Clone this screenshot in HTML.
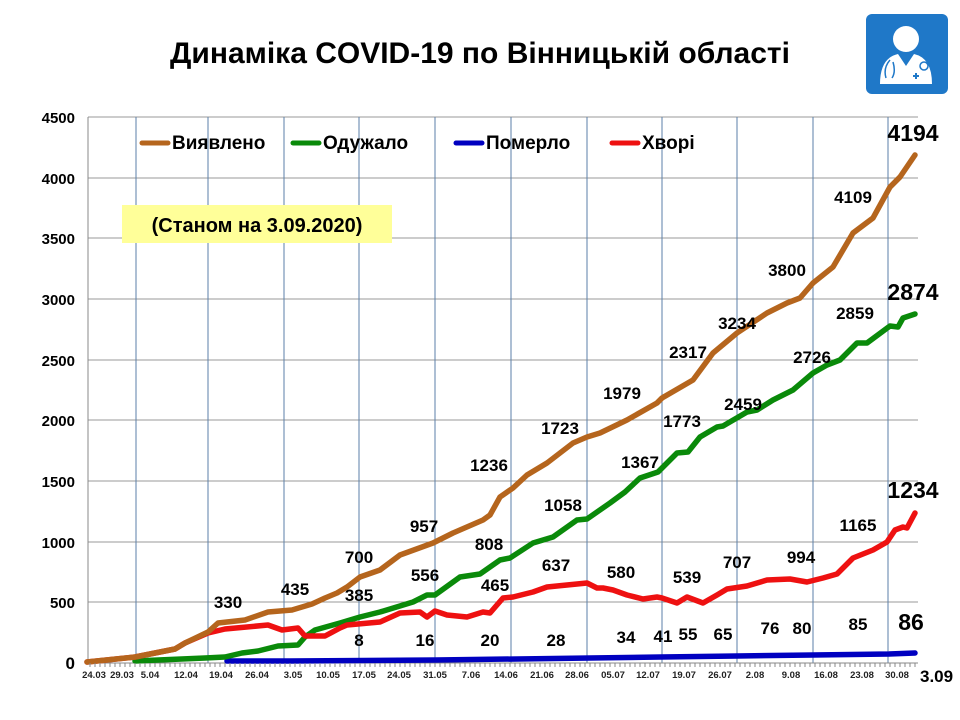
<!DOCTYPE html>
<html><head><meta charset="utf-8"><style>body{margin:0;background:#fff}svg{display:block}text{font-family:"Liberation Sans",sans-serif;font-weight:bold}</style></head>
<body>
<svg width="960" height="720" viewBox="0 0 960 720" xmlns="http://www.w3.org/2000/svg">
<rect width="960" height="720" fill="#fff"/>
<text x="480" y="63" font-size="30" text-anchor="middle" fill="#000">Динаміка COVID-19 по Вінницькій області</text>
<rect x="866" y="14" width="82" height="80" rx="6" fill="#1f78c8"/>
<circle cx="906" cy="39" r="13" fill="#fff"/>
<path d="M880 84 Q880 58 898 54 L906 66 L914 54 Q932 58 932 84 Z" fill="#fff"/>
<path d="M890 60 Q883 68 886 78 M892 78 Q896 72 893 62" stroke="#1f78c8" stroke-width="1.5" fill="none"/>
<circle cx="924" cy="66" r="4" fill="none" stroke="#1f78c8" stroke-width="1.5"/>
<path d="M913 76 h6 M916 73 v6" stroke="#1f78c8" stroke-width="2"/>
<g stroke="#999" stroke-width="1">
<line x1="88" y1="117" x2="918" y2="117"/><line x1="88" y1="178" x2="918" y2="178"/><line x1="88" y1="238" x2="918" y2="238"/><line x1="88" y1="299" x2="918" y2="299"/><line x1="88" y1="360" x2="918" y2="360"/><line x1="88" y1="420" x2="918" y2="420"/><line x1="88" y1="481" x2="918" y2="481"/><line x1="88" y1="542" x2="918" y2="542"/><line x1="88" y1="602" x2="918" y2="602"/>
</g>
<g stroke="#5b7fa8" stroke-width="1">
<line x1="136" y1="117" x2="136" y2="663"/><line x1="208" y1="117" x2="208" y2="663"/><line x1="284" y1="117" x2="284" y2="663"/><line x1="359" y1="117" x2="359" y2="663"/><line x1="435" y1="117" x2="435" y2="663"/><line x1="511" y1="117" x2="511" y2="663"/><line x1="587" y1="117" x2="587" y2="663"/><line x1="662" y1="117" x2="662" y2="663"/><line x1="737" y1="117" x2="737" y2="663"/><line x1="813" y1="117" x2="813" y2="663"/><line x1="888" y1="117" x2="888" y2="663"/>
</g>
<line x1="88" y1="117" x2="88" y2="663" stroke="#888"/>
<line x1="85" y1="663" x2="918" y2="663" stroke="#888"/>
<g font-size="15" text-anchor="end" fill="#000">
<text x="75" y="123">4500</text><text x="75" y="184">4000</text><text x="75" y="244">3500</text><text x="75" y="305">3000</text><text x="75" y="366">2500</text><text x="75" y="426">2000</text><text x="75" y="487">1500</text><text x="75" y="548">1000</text><text x="75" y="608">500</text><text x="75" y="669" font-size="17">0</text>
</g>
<g font-size="9.5" text-anchor="middle" fill="#222">
<text x="94" y="678">24.03</text><text x="122" y="678">29.03</text><text x="150" y="678">5.04</text><text x="186" y="678">12.04</text><text x="221" y="678">19.04</text><text x="257" y="678">26.04</text><text x="293" y="678">3.05</text><text x="328" y="678">10.05</text><text x="364" y="678">17.05</text><text x="399" y="678">24.05</text><text x="435" y="678">31.05</text><text x="471" y="678">7.06</text><text x="506" y="678">14.06</text><text x="542" y="678">21.06</text><text x="577" y="678">28.06</text><text x="613" y="678">05.07</text><text x="648" y="678">12.07</text><text x="684" y="678">19.07</text><text x="720" y="678">26.07</text><text x="755" y="678">2.08</text><text x="791" y="678">9.08</text><text x="826" y="678">16.08</text><text x="862" y="678">23.08</text><text x="897" y="678">30.08</text>
</g>
<text x="920" y="682" font-size="17" fill="#000">3.09</text>
<g font-size="19" fill="#000">
<line x1="142" y1="143" x2="168" y2="143" stroke="#b5651d" stroke-width="5" stroke-linecap="round"/><text x="172" y="149">Виявлено</text>
<line x1="293" y1="143" x2="319" y2="143" stroke="#0a8a0a" stroke-width="5" stroke-linecap="round"/><text x="323" y="149">Одужало</text>
<line x1="456" y1="143" x2="482" y2="143" stroke="#0000c0" stroke-width="5" stroke-linecap="round"/><text x="486" y="149">Померло</text>
<line x1="612" y1="143" x2="638" y2="143" stroke="#ee1111" stroke-width="5" stroke-linecap="round"/><text x="642" y="149">Хворі</text>
</g>
<rect x="122" y="205" width="270" height="38" fill="#ffff99"/>
<text x="257" y="232" font-size="20" text-anchor="middle" fill="#000">(Станом на 3.09.2020)</text>
<g fill="none" stroke-width="5.5" stroke-linejoin="round" stroke-linecap="round">
<polyline stroke="#0000c0" points="227,661 290,661 436,660 590,658 661,657 737,656 813,655 889,654 915,653"/>
<polyline stroke="#0a8a0a" points="135,661 205,658 225,657 242,653 258,651 278,646 298,645 305,637 315,630 340,623 360,617 380,612 413,602 427,595 435,595 460,577 480,574 500,560 510,558 533,543 553,537 577,520 587,519 610,503 625,492 640,478 658,472 677,453 688,452 700,437 717,427 723,426 747,412 757,410 773,400 793,390 813,373 827,365 840,360 857,343 867,343 890,326 898,327 903,318 915,314"/>
<polyline stroke="#ee1111" points="87,662 135,657 175,649 185,643 208,633 225,629 268,625 282,630 298,628 305,636 325,636 340,628 347,625 380,622 400,613 420,612 427,617 435,611 447,615 467,617 483,612 490,613 503,598 513,597 533,592 547,587 567,585 587,583 597,588 603,588 613,590 627,595 643,599 657,597 662,598 677,603 687,597 703,603 717,595 727,589 747,586 767,580 790,579 807,582 823,578 837,574 853,558 873,550 887,542 895,530 903,527 907,528 915,513"/>
<polyline stroke="#b5651d" points="87,662 135,657 175,649 185,643 208,632 218,623 245,620 268,612 292,610 312,604 325,598 337,593 347,587 360,577 380,570 400,555 433,543 453,533 483,520 490,515 500,497 513,488 527,475 547,463 573,443 587,437 600,433 627,420 657,403 662,398 693,380 713,353 737,333 767,313 787,303 800,298 813,283 833,267 853,233 873,218 890,187 900,177 915,155"/>
</g>
<g font-size="17" text-anchor="middle" fill="#000">
<text x="853" y="203">4109</text><text x="787" y="276">3800</text><text x="737" y="329">3234</text><text x="688" y="358">2317</text><text x="622" y="399">1979</text><text x="560" y="434">1723</text><text x="489" y="471">1236</text><text x="424" y="532">957</text><text x="359" y="563">700</text><text x="295" y="595">435</text><text x="228" y="608">330</text>
<text x="855" y="319">2859</text><text x="812" y="363">2726</text><text x="743" y="410">2459</text><text x="682" y="427">1773</text><text x="640" y="468">1367</text><text x="563" y="511">1058</text><text x="489" y="550">808</text><text x="425" y="581">556</text><text x="359" y="601">385</text>
<text x="858" y="531">1165</text><text x="801" y="563">994</text><text x="737" y="568">707</text><text x="687" y="583">539</text><text x="621" y="578">580</text><text x="556" y="571">637</text><text x="495" y="591">465</text>
<text x="858" y="630">85</text><text x="802" y="634">80</text><text x="770" y="634">76</text><text x="723" y="640">65</text><text x="688" y="640">55</text><text x="663" y="642">41</text><text x="626" y="643">34</text><text x="556" y="646">28</text><text x="490" y="646">20</text><text x="425" y="646">16</text><text x="359" y="646">8</text>
</g>
<g font-size="23" text-anchor="middle" fill="#000">
<text x="913" y="141">4194</text><text x="913" y="300">2874</text><text x="913" y="498">1234</text><text x="911" y="630">86</text>
</g>
<g stroke="#888" stroke-width="1">
<path d="M90 663v4M95 663v4M100 663v4M105 663v4M110 663v4M115 663v4M120 663v4M125 663v4M130 663v4M135 663v4M140 663v4M145 663v4M150 663v4M155 663v4M160 663v4M165 663v4M170 663v4M175 663v4M180 663v4M185 663v4M190 663v4M195 663v4M200 663v4M205 663v4M210 663v4M215 663v4M220 663v4M225 663v4M230 663v4M235 663v4M240 663v4M245 663v4M250 663v4M255 663v4M260 663v4M265 663v4M270 663v4M275 663v4M280 663v4M285 663v4M290 663v4M295 663v4M300 663v4M305 663v4M310 663v4M315 663v4M320 663v4M325 663v4M330 663v4M335 663v4M340 663v4M345 663v4M350 663v4M355 663v4M360 663v4M365 663v4M370 663v4M375 663v4M380 663v4M385 663v4M390 663v4M395 663v4M400 663v4M405 663v4M410 663v4M415 663v4M420 663v4M425 663v4M430 663v4M435 663v4M440 663v4M445 663v4M450 663v4M455 663v4M460 663v4M465 663v4M470 663v4M475 663v4M480 663v4M485 663v4M490 663v4M495 663v4M500 663v4M505 663v4M510 663v4M515 663v4M520 663v4M525 663v4M530 663v4M535 663v4M540 663v4M545 663v4M550 663v4M555 663v4M560 663v4M565 663v4M570 663v4M575 663v4M580 663v4M585 663v4M590 663v4M595 663v4M600 663v4M605 663v4M610 663v4M615 663v4M620 663v4M625 663v4M630 663v4M635 663v4M640 663v4M645 663v4M650 663v4M655 663v4M660 663v4M665 663v4M670 663v4M675 663v4M680 663v4M685 663v4M690 663v4M695 663v4M700 663v4M705 663v4M710 663v4M715 663v4M720 663v4M725 663v4M730 663v4M735 663v4M740 663v4M745 663v4M750 663v4M755 663v4M760 663v4M765 663v4M770 663v4M775 663v4M780 663v4M785 663v4M790 663v4M795 663v4M800 663v4M805 663v4M810 663v4M815 663v4M820 663v4M825 663v4M830 663v4M835 663v4M840 663v4M845 663v4M850 663v4M855 663v4M860 663v4M865 663v4M870 663v4M875 663v4M880 663v4M885 663v4M890 663v4M895 663v4M900 663v4M905 663v4M910 663v4M915 663v4"/>
</g>
</svg>
</body></html>
